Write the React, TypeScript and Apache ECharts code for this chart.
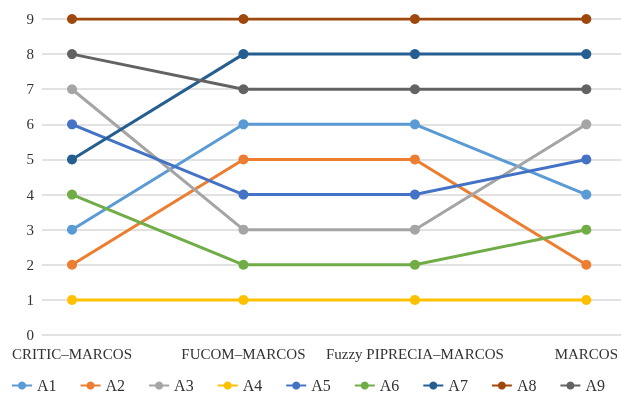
import React, { useEffect, useRef } from "react";
import * as echarts from "echarts";

const categories = ["CRITIC–MARCOS", "FUCOM–MARCOS", "Fuzzy PIPRECIA–MARCOS", "MARCOS"];
const seriesNames = ["A1", "A2", "A3", "A4", "A5", "A6", "A7", "A8", "A9"];
const A1 = [3, 6, 6, 4];
const A2 = [2, 5, 5, 2];
const A3 = [7, 3, 3, 6];
const A4 = [1, 1, 1, 1];
const A5 = [6, 4, 4, 5];
const A6 = [4, 2, 2, 3];
const A7 = [5, 8, 8, 8];
const A8 = [9, 9, 9, 9];
const A9 = [8, 7, 7, 7];
const seriesValues = [A1, A2, A3, A4, A5, A6, A7, A8, A9];
const colors = ["#5B9BD5", "#ED7D31", "#A5A5A5", "#FFC000", "#4472C4", "#70AD47", "#255E91", "#9E480E", "#636363"];

const FONT = "Liberation Serif";

export default function App() {
  const ref = useRef<HTMLDivElement>(null);
  useEffect(() => {
    if (!ref.current) return;
    const chart = echarts.init(ref.current, undefined, { renderer: "svg" });
    chart.setOption({
      animation: false,
      color: colors,
      textStyle: { fontFamily: FONT },
      legend: {
        data: seriesNames,
        left: 11,
        width: 700,
        top: 377,
        padding: 0,
        itemWidth: 20,
        itemHeight: 10,
        itemGap: 23,
        textStyle: { fontFamily: FONT, fontSize: 16, color: "#333", lineHeight: 17 },
      },
      grid: [
        { left: 42, right: 0, top: 19, bottom: 60 },
        { left: 72, right: 30, top: 19, bottom: 60 },
      ],
      xAxis: [
        { type: "value", gridIndex: 0, min: 0, max: 1, show: false },
        {
          type: "category",
          gridIndex: 1,
          data: categories,
          boundaryGap: false,
          axisLine: { show: false },
          axisTick: { show: false },
          splitLine: { show: false },
          axisLabel: { fontFamily: FONT, fontSize: 15, color: "#333", margin: 11, interval: 0 },
        },
      ],
      yAxis: [
        {
          type: "value",
          gridIndex: 0,
          min: 0,
          max: 9,
          interval: 1,
          axisLine: { show: false },
          axisTick: { show: false },
          axisLabel: { fontFamily: FONT, fontSize: 15, color: "#333", margin: 8 },
          splitLine: { lineStyle: { color: "#d9d9d9", width: 1.5 } },
        },
        { type: "value", gridIndex: 1, min: 0, max: 9, interval: 1, show: false, splitLine: { show: false } },
      ],
      series: seriesNames.map((name, i) => ({
        name,
        type: "line",
        xAxisIndex: 1,
        yAxisIndex: 1,
        data: seriesValues[i],
        symbol: "circle",
        symbolSize: 10,
        lineStyle: { width: 3, color: colors[i] },
        itemStyle: { color: colors[i] },
      })),
    });
    return () => chart.dispose();
  }, []);
  return <div ref={ref} style={{ position: "fixed", left: 0, top: 0, width: 621, height: 395 }} />;
}
